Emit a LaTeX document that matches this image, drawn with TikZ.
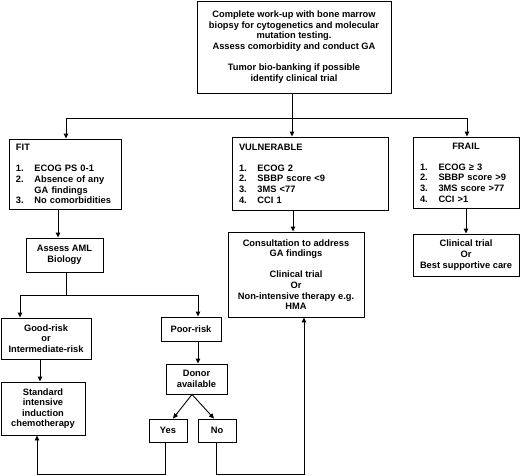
\documentclass[tikz,border=0pt]{standalone}
\usepackage{fontspec}
\setmainfont{Liberation Sans}
\usetikzlibrary{arrows.meta,calc}
\newcommand{\itm}[1]{\makebox[18.5pt][l]{#1}}
\begin{document}
\begin{tikzpicture}[x=1pt,y=-1pt,
  box/.style={draw,line width=0.9pt,inner sep=0pt,align=center,
    font=\fontsize{9.3}{10.6}\selectfont\bfseries},
  lbox/.style={box,align=left},
  conn/.style={line width=0.9pt},
  arr/.style={conn,-{Triangle[length=5pt,width=4.5pt]}}]
\useasboundingbox (0,0) rectangle (520,475);

% boxes
\node[box,minimum width=194pt,minimum height=92pt] (top) at (294,47)
  {Complete work-up with bone marrow\\biopsy for cytogenetics and molecular\\mutation testing.\\Assess comorbidity and conduct GA\\[10.6pt]Tumor bio-banking if possible\\identify clinical trial};
\node[lbox,inner xsep=7pt,text width=98pt,minimum height=70pt] (fit) at (65,174)
  {FIT\\[10.6pt]\itm{1.}ECOG PS 0-1\\\itm{2.}Absence of any\\\hspace*{18.5pt}GA findings\\\itm{3.}No comorbidities};
\node[lbox,inner xsep=7pt,text width=142pt,minimum height=73pt] (vul) at (310,173.5)
  {VULNERABLE\\[10.6pt]\itm{1.}ECOG 2\\\itm{2.}SBBP score <9\\\itm{3.}3MS <77\\\itm{4.}CCI 1};
\node[lbox,inner xsep=7pt,text width=92pt,minimum height=71pt] (frail) at (466,172.5)
  {\makebox[92pt]{FRAIL}\\[10.6pt]\itm{1.}ECOG ≥ 3\\\itm{2.}SBBP score >9\\\itm{3.}3MS score >77\\\itm{4.}CCI >1};
\node[box,minimum width=77pt,minimum height=34pt] (aml) at (64.5,255)
  {Assess AML\\Biology};
\node[box,minimum width=136pt,minimum height=85pt] (cons) at (296,274.5)
  {Consultation to address\\GA findings\\[10.6pt]Clinical trial\\Or\\Non-intensive therapy e.g.\\HMA};
\node[box,minimum width=106pt,minimum height=42pt] (ct) at (466,255)
  {Clinical trial\\Or\\Best supportive care};
\node[box,minimum width=90pt,minimum height=41pt] (good) at (46,338.5)
  {Good-risk\\or\\Intermediate-risk};
\node[box,minimum width=60pt,minimum height=24pt] (poor) at (191,329)
  {Poor-risk};
\node[box,minimum width=84pt,minimum height=53pt] (std) at (43,408.5)
  {Standard\\intensive\\induction\\chemotherapy};
\node[box,minimum width=61pt,minimum height=30pt] (donor) at (196.5,379)
  {Donor\\available};
\node[box,minimum width=38pt,minimum height=23pt] (yes) at (168,430.5) {Yes};
\node[box,minimum width=38pt,minimum height=23pt] (no) at (217,430.5) {No};

% helper coordinates
\coordinate (j0) at (292,118);
\coordinate (jl) at (66,118);
\coordinate (jr) at (467,118);
\coordinate (xa) at (58,0);
\coordinate (xv) at (293,0);
\coordinate (s0) at (66,295);
\coordinate (sl) at (20,295);
\coordinate (sr) at (198,295);
\coordinate (xg) at (40,0);
\coordinate (xd) at (192,0);
\coordinate (xy) at (173,0);
\coordinate (xn) at (214,0);
\coordinate (y1) at (165,474);
\coordinate (y2) at (37,474);
\coordinate (n1) at (216,474);
\coordinate (n2) at (304,474);

% connectors
\draw[conn] (top.south -| j0) -- (j0);
\draw[conn] (jl) -- (jr);
\draw[arr] (jl) -- (jl |- fit.north);
\draw[arr] (j0) -- (j0 |- vul.north);
\draw[arr] (jr) -- (jr |- frail.north);
\draw[arr] (fit.south -| xa) -- (aml.north -| xa);
\draw[arr] (vul.south -| xv) -- (cons.north -| xv);
\draw[arr] (frail.south -| ct.north) -- (ct.north);
\draw[conn] (aml.south -| s0) -- (s0);
\draw[conn] (sl) -- (sr);
\draw[arr] (sl) -- (sl |- good.north);
\draw[arr] (sr) -- (sr |- poor.north);
\draw[arr] (good.south -| xg) -- (std.north -| xg);
\draw[arr] (poor.south -| sr) -- (donor.north -| sr);
\draw[arr] (donor.south -| xd) -- (yes.north -| xy);
\draw[arr] (donor.south -| xd) -- (no.north -| xn);
\draw[arr] (yes.south -| y1) -- (y1) -- (y2) -- (y2 |- std.south);
\draw[arr] (no.south -| n1) -- (n1) -- (n2) -- (n2 |- cons.south);
\end{tikzpicture}
\end{document}
